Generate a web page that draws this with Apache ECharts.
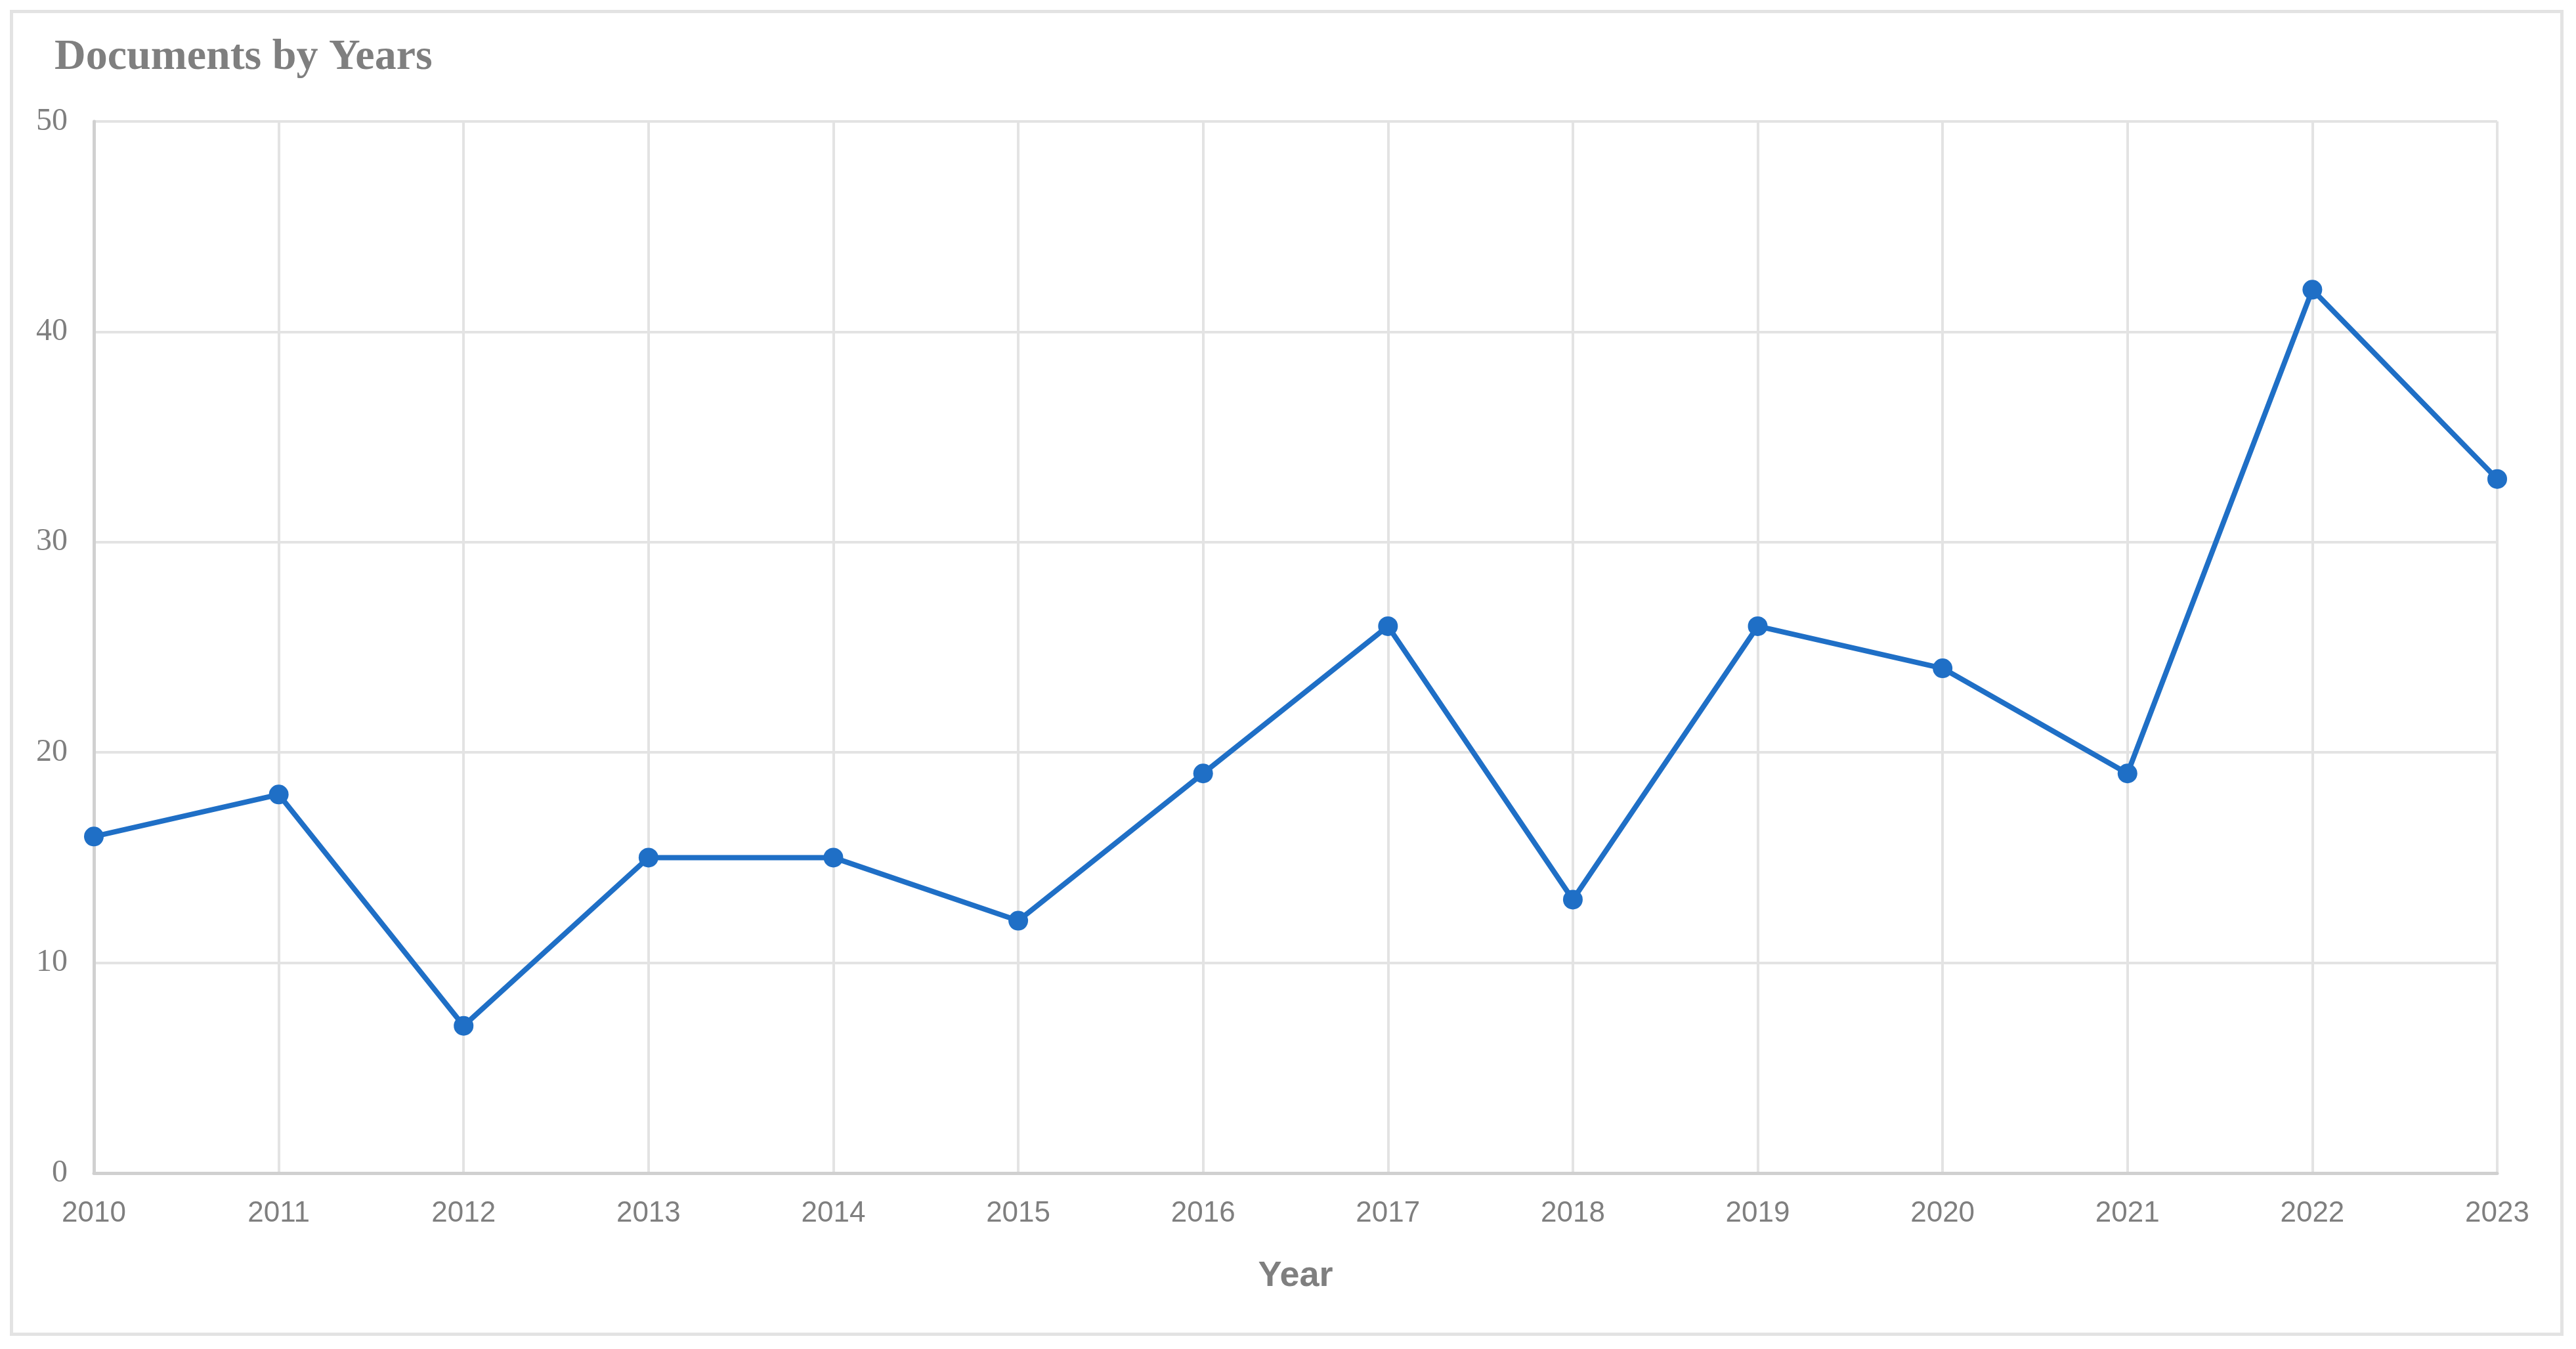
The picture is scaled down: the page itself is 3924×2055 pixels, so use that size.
<!DOCTYPE html>
<html>
<head>
<meta charset="utf-8">
<title>Documents by Years</title>
<script src="https://cdn.jsdelivr.net/npm/echarts@6/dist/echarts.min.js"></script>
<style>
  html, body { margin: 0; padding: 0; background: #fff; }
  #frame { position: absolute; left: 15px; top: 15px; width: 3890px; height: 2020px; border: 5px solid #e3e3e3; box-sizing: border-box; }
  #chart { position: absolute; left: 0; top: 0; width: 3924px; height: 2055px; }
</style>
</head>
<body>
<div id="frame"></div>
<div id="chart"></div>
<script>
var years = ['2010', '2011', '2012', '2013', '2014', '2015', '2016', '2017', '2018', '2019', '2020', '2021', '2022', '2023'];
var documents = [16, 18, 7, 15, 15, 12, 19, 26, 13, 26, 24, 19, 42, 33];

var myChart = echarts.init(document.getElementById('chart'));
var option = {
  animation: false,
  title: {
    text: 'Documents by Years',
    left: 78, top: 50,
    textStyle: { fontFamily: 'Liberation Serif', fontWeight: 'bold', fontSize: 66, color: '#7f7f7f' }
  },
  grid: { left: 143, right: 120, top: 185, bottom: 268 },
  xAxis: {
    type: 'category',
    data: years,
    boundaryGap: false,
    name: 'Year',
    nameLocation: 'middle',
    nameGap: 130,
    nameTextStyle: { fontFamily: 'Liberation Sans', fontWeight: 'bold', fontSize: 54, color: '#7f7f7f' },
    axisLine: { lineStyle: { color: '#d0d0d0', width: 5 } },
    axisTick: { show: false },
    axisLabel: { fontFamily: 'Liberation Sans', fontSize: 44, color: '#7f7f7f', margin: 40 },
    splitLine: { show: true, lineStyle: { color: '#e3e3e3', width: 4 } }
  },
  yAxis: {
    type: 'value',
    min: 0, max: 50, interval: 10,
    axisLine: { show: true, lineStyle: { color: '#d0d0d0', width: 5 } },
    axisTick: { show: false },
    axisLabel: { fontFamily: 'Liberation Serif', fontSize: 48, color: '#7f7f7f', margin: 40 },
    splitLine: { lineStyle: { color: '#e3e3e3', width: 4 } }
  },
  series: [{
    type: 'line',
    data: documents,
    symbol: 'circle',
    symbolSize: 30,
    lineStyle: { color: '#1f6fc6', width: 8 },
    itemStyle: { color: '#1f6fc6' }
  }]
};
myChart.setOption(option);
</script>
</body>
</html>
